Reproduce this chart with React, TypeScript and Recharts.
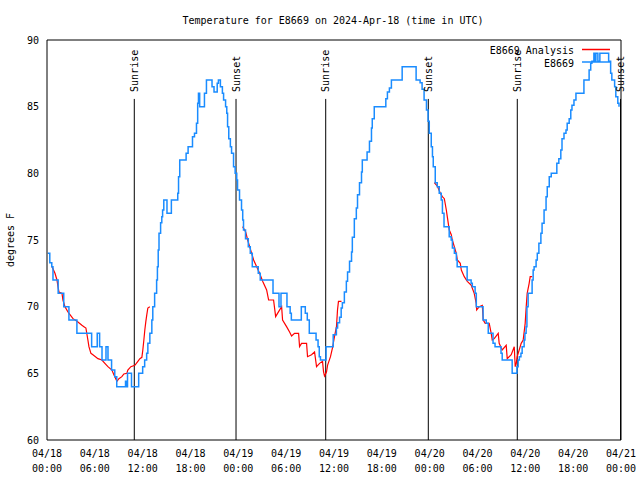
import React from 'react';
import {
  LineChart, Line, XAxis, YAxis, ReferenceLine, ReferenceDot, Legend,
} from 'recharts';

// ---------- data (hours since 04/18 00:00 UTC, degrees F) ----------
const xTicks = [0, 6, 12, 18, 24, 30, 36, 42, 48, 54, 60, 66, 72];
const xMinorTicks = [0, 2, 4, 6, 8, 10, 12, 14, 16, 18, 20, 22, 24, 26, 28, 30, 32, 34, 36, 38, 40, 42, 44, 46, 48, 50, 52, 54, 56, 58, 60, 62, 64, 66, 68, 70, 72];
const xTickDates = ['04/18', '04/18', '04/18', '04/18', '04/19', '04/19', '04/19', '04/19', '04/20', '04/20', '04/20', '04/20', '04/21'];
const xTickTimes = ['00:00', '06:00', '12:00', '18:00', '00:00', '06:00', '12:00', '18:00', '00:00', '06:00', '12:00', '18:00', '00:00'];
const yTicks = [60, 65, 70, 75, 80, 85, 90];

const sunEventHours = [10.95, 23.71, 34.96, 47.83, 58.99, 71.94];
const sunEventNames = ['Sunrise', 'Sunset', 'Sunrise', 'Sunset', 'Sunrise', 'Sunset'];
const sunLineTop = 85.58;

const seriesNames = ['E8669 Analysis', 'E8669'];

// E8669 observations [hour, temp]
const stationDay1: [number, number][] = [
  [0.1, 74], [0.35, 73.3], [0.6, 73], [0.75, 72], [1.4, 71], [2.1, 70], [2.75, 69], [3.75, 68],
  [5.6, 67], [6.3, 68], [6.6, 67], [6.9, 66], [7.4, 67], [7.65, 66], [8.1, 65.25], [8.5, 64.75],
  [8.75, 64], [9.85, 64.4], [9.95, 64], [10.1, 65], [10.6, 64], [11.5, 65], [12.0, 65.5],
  [12.25, 66], [12.5, 66.5], [12.65, 67.25], [12.9, 68], [13.15, 69], [13.27, 70], [13.5, 71],
  [13.75, 72], [13.85, 73], [13.95, 74.25], [14.05, 75.5], [14.25, 76.3], [14.4, 76.75],
  [14.5, 77.25], [14.65, 78], [15.05, 77], [15.6, 78], [16.4, 78.5], [16.5, 79.75], [16.65, 81],
  [17.45, 81.5], [17.7, 82], [18.25, 82.75], [18.5, 83], [18.75, 83.75], [18.9, 85.25], [19.0, 86],
  [19.15, 85], [19.75, 86], [20.0, 87], [20.7, 86.5], [20.95, 86.1], [21.35, 86.75], [21.5, 87],
  [21.75, 86.5], [22.0, 86], [22.15, 85.5], [22.4, 85], [22.55, 84.5], [22.65, 83.5], [22.8, 82.6],
  [23.0, 82], [23.15, 81.5], [23.4, 80.5], [23.6, 80], [23.8, 79.5], [23.9, 78.75],
];
const stationDay2: [number, number][] = [
  [24.15, 78], [24.4, 77.25], [24.55, 76.5], [24.65, 75.75], [24.9, 75.1], [25.25, 74.5], [25.5, 74],
  [25.75, 73], [26.5, 72.5], [26.75, 72], [28.35, 71], [29.1, 70], [29.35, 71], [30.1, 70],
  [30.5, 69.5], [30.65, 69], [31.9, 70], [32.4, 69.5], [32.65, 69], [32.9, 68], [33.75, 67.5],
  [34.0, 67], [34.15, 66.25], [34.3, 66], [35.0, 67], [35.9, 67.9], [36.3, 68.4], [36.45, 68.8],
  [36.7, 69.2], [36.9, 69.9], [37.05, 70.3], [37.3, 71.1], [37.55, 71.9], [37.7, 72.6], [37.95, 73.4],
  [38.2, 74.1], [38.3, 75.2], [38.55, 76.6], [38.8, 77.4], [38.95, 78.4], [39.2, 79.3], [39.45, 80.1],
  [39.55, 81], [40.15, 81.6], [40.45, 82.4], [40.7, 83.4], [40.8, 84.1], [41.05, 85], [42.5, 85.6],
  [42.7, 86.1], [42.95, 86.4], [43.2, 87], [44.55, 88], [46.3, 87], [46.8, 86.8], [47.05, 86.3],
  [47.3, 85.5], [47.6, 84.75], [47.8, 83.9],
];
const stationDay3: [number, number][] = [
  [47.95, 83], [48.2, 82], [48.35, 81.25], [48.45, 80.5], [48.7, 79.3], [48.95, 79], [49.2, 78.5],
  [49.45, 78], [49.6, 77], [49.8, 76], [50.45, 75.25], [50.7, 75], [50.85, 74.4], [51.1, 74],
  [51.35, 73.5], [51.45, 73], [52.7, 72], [53.2, 71.75], [53.35, 71.5], [53.7, 71], [53.85, 70],
  [54.7, 69], [55.1, 68.75], [55.35, 68], [55.95, 67.25], [56.2, 67], [56.95, 66.5], [57.1, 66],
  [58.35, 65], [58.95, 65.5], [59.1, 66], [59.25, 66.25], [59.45, 66.5], [59.6, 67], [59.85, 67.5],
  [59.95, 68], [60.1, 68.5], [60.2, 70], [60.35, 71], [60.85, 72], [60.98, 72.75], [61.1, 73],
  [61.35, 73.5], [61.5, 74], [61.7, 74.75], [61.95, 75.5], [62.1, 76.25], [62.35, 77.25],
  [62.6, 78.25], [62.75, 79], [63.0, 79.75], [63.25, 80], [63.95, 80.75], [64.2, 81.1],
  [64.45, 81.75], [64.6, 82.6], [64.85, 83], [65.1, 83.25], [65.25, 83.75], [65.5, 84.1],
  [65.7, 84.75], [65.85, 85.1], [66.1, 85.5], [66.35, 86], [67.35, 87], [68.0, 87.75], [68.2, 88.25],
  [68.35, 88.4], [68.6, 89], [68.75, 88.4], [68.85, 89], [69.1, 88.4], [69.35, 89], [70.45, 88.4],
  [70.7, 87.5], [70.85, 87], [71.2, 86.5], [71.35, 85.75], [71.6, 85.25], [71.75, 85],
];

// E8669 Analysis [hour, temp]
const analysisNight1: [number, number][] = [
  [0.63, 73], [1.0, 72.5], [1.25, 72], [1.38, 71.5], [1.5, 71.1], [1.88, 71], [2.0, 70.5], [2.25, 70],
  [2.63, 69.6], [2.88, 69.4], [3.26, 69.1], [3.76, 68.9], [4.38, 68.6], [4.63, 68.5], [4.88, 68.4],
  [5.13, 67.5], [5.26, 67], [5.51, 66.5], [5.76, 66.4], [6.39, 66.1], [6.89, 66], [7.26, 65.75],
  [7.64, 65.5], [8.14, 65.25], [8.39, 64.9], [8.77, 64.4], [9.02, 64.6], [9.39, 64.75], [9.64, 64.95],
  [10.02, 65], [10.14, 65.25], [10.52, 65.5], [11.02, 65.6], [11.4, 65.9], [11.65, 66.1], [11.9, 66.2],
  [12.02, 66.75], [12.15, 67.5], [12.27, 68.25], [12.4, 68.9], [12.52, 69.4], [12.65, 69.9], [12.9, 70],
];
const analysisNight2: [number, number][] = [
  [24.54, 76], [24.92, 75.6], [25.17, 75], [25.42, 74.5], [25.67, 74], [25.92, 73.5], [26.3, 73],
  [26.67, 72.5], [27.05, 71.9], [27.55, 71.25], [27.8, 70.5], [28.42, 70.5], [28.68, 69.25],
  [28.92, 69.5], [29.43, 70], [29.55, 69], [30.05, 68.5], [30.43, 68.1], [30.68, 67.8], [31.05, 68],
  [31.56, 68], [31.68, 67], [31.93, 67.25], [32.56, 67.25], [32.68, 66.25], [33.18, 66.4],
  [33.56, 66.6], [33.81, 65.5], [34.19, 65.75], [34.56, 65.9], [34.69, 65.1], [34.81, 64.8],
  [35.06, 65.1], [35.19, 65.6], [35.56, 66.25], [35.81, 66.9], [36.06, 67.75], [36.31, 68.5],
  [36.44, 69.75], [36.56, 70.4], [36.94, 70.4],
];
const analysisNight3: [number, number][] = [
  [48.58, 79.3], [48.96, 79.05], [49.34, 78.5], [49.59, 78.25], [49.84, 78.1], [50.09, 77.25],
  [50.21, 76.75], [50.46, 75.75], [50.71, 75.4], [50.84, 75], [51.09, 74.5], [51.34, 74],
  [51.47, 73.5], [51.84, 73.25], [51.97, 72.75], [52.34, 72.25], [52.72, 71.9], [53.22, 71.6],
  [53.34, 71.4], [53.59, 71], [53.84, 70.25], [53.9, 69.75], [54.22, 70], [54.6, 70.1], [54.72, 69],
  [54.97, 68.75], [55.47, 68.75], [55.72, 68], [55.85, 67.5], [56.1, 67.6], [56.6, 68], [56.72, 67.25],
  [56.98, 66.9], [57.1, 66.75], [57.6, 67.1], [57.73, 66.1], [58.23, 66.4], [58.61, 67], [58.73, 65.5],
  [58.86, 65.75], [58.98, 66.25], [59.23, 66.75], [59.48, 67.25], [59.73, 67.5], [59.98, 68.75],
  [60.11, 70], [60.23, 71], [60.48, 71.75], [60.61, 72.25], [60.86, 72.25],
];

// ---------- build series tables ----------
const toRows = (pts: [number, number][]) => pts.map(([h, t]) => ({ h, t }));
const stationRows = toRows([...stationDay1, ...stationDay2, ...stationDay3]);
const analysisRows = [
  ...toRows(analysisNight1),
  { h: 18, t: null },
  ...toRows(analysisNight2),
  { h: 42, t: null },
  ...toRows(analysisNight3),
];

const FONT = '"DejaVu Sans Mono", "Liberation Mono", monospace';
const BLUE = '#1a8cff';
const RED = '#ff0000';
const seriesColors: Record<string, string> = { 'E8669 Analysis': RED, 'E8669': BLUE };

const XTick = (props: any) => {
  const { x, y, payload } = props;
  const i = xTicks.indexOf(payload.value);
  return (
    <g>
      <text x={x} y={y + 17} textAnchor="middle" fontFamily={FONT} fontSize={10} fill="#000">{xTickDates[i]}</text>
      <text x={x} y={y + 32} textAnchor="middle" fontFamily={FONT} fontSize={10} fill="#000">{xTickTimes[i]}</text>
    </g>
  );
};

const LegendContent = (props: any) => {
  const payload: any[] = props.payload || [];
  const items = seriesNames.map((name) => {
    const found = payload.find((p: any) => p.value === name);
    return { name, color: found ? found.color : seriesColors[name] };
  });
  return (
    <svg width={140} height={32} style={{ display: 'block', overflow: 'visible' }}>
      {items.map((it: any, i: number) => (
        <g key={i}>
          <text x={94} y={14 + i * 12.5} textAnchor="end" fontFamily={FONT} fontSize={10} fill="#000">{it.name}</text>
          <line x1={102} x2={130} y1={9.5 + i * 12.5} y2={9.5 + i * 12.5} stroke={it.color} strokeWidth={1.5} />
        </g>
      ))}
    </svg>
  );
};

export default function App() {
  return (
    <div style={{ position: 'absolute', left: 0, top: 0, width: 640, height: 480, background: '#fff' }}>
      <LineChart width={640} height={480} margin={{ top: 40, right: 19, bottom: 0, left: 0 }}>
        <XAxis xAxisId="x" type="number" dataKey="h" domain={[0, 72]} ticks={xTicks} tick={<XTick />}
          tickLine={false} tickSize={0} tickMargin={0} height={40} axisLine={{ stroke: '#000' }} interval={0} />
        <XAxis xAxisId="xb1" type="number" dataKey="h" domain={[0, 72]} ticks={xTicks} mirror tick={false}
          tickSize={4} tickLine={{ stroke: '#000' }} axisLine={false} interval={0} />
        <XAxis xAxisId="xb2" type="number" dataKey="h" domain={[0, 72]} ticks={xMinorTicks} mirror tick={false}
          tickSize={2} tickLine={{ stroke: '#000' }} axisLine={false} interval={0} />
        <XAxis xAxisId="xt1" orientation="top" type="number" dataKey="h" domain={[0, 72]} ticks={xTicks} mirror tick={false}
          tickSize={4} tickLine={{ stroke: '#000' }} axisLine={{ stroke: '#000' }} interval={0} />
        <XAxis xAxisId="xt2" orientation="top" type="number" dataKey="h" domain={[0, 72]} ticks={xMinorTicks} mirror tick={false}
          tickSize={2} tickLine={{ stroke: '#000' }} axisLine={false} interval={0} />
        <YAxis yAxisId="y" type="number" domain={[60, 90]} ticks={yTicks} width={47} tickLine={false}
          tickSize={5} tickMargin={3} axisLine={{ stroke: '#000' }} interval={0}
          tick={{ fontFamily: FONT, fontSize: 10, fill: '#000' }} />
        <YAxis yAxisId="yl" type="number" domain={[60, 90]} ticks={yTicks} mirror tick={false}
          tickSize={4} tickLine={{ stroke: '#000' }} axisLine={false} interval={0} />
        <YAxis yAxisId="yr" orientation="right" type="number" domain={[60, 90]} ticks={yTicks} mirror tick={false}
          tickSize={4} tickLine={{ stroke: '#000' }} axisLine={{ stroke: '#000' }} interval={0} />

        {sunEventHours.map((h, i) => (
          <ReferenceLine key={'sl' + i} xAxisId="x" yAxisId="y"
            segment={[{ x: h, y: 60 }, { x: h, y: sunLineTop }]} stroke="#000" strokeWidth={1} />
        ))}
        {sunEventHours.map((h, i) => (
          <ReferenceDot key={'sd' + i} xAxisId="x" yAxisId="y" x={h} y={sunLineTop} r={0}
            shape={(p: any) => (
              <text x={p.cx} y={p.cy - 7} transform={`rotate(-90 ${p.cx} ${p.cy - 7})`} textAnchor="start"
                dy="0.35em" fontFamily={FONT} fontSize={10} fill="#000">{sunEventNames[i]}</text>
            )} />
        ))}

        <Line xAxisId="x" yAxisId="y" data={analysisRows} dataKey="t" name={seriesNames[0]} type="linear"
          stroke={RED} strokeWidth={1.2} dot={false} activeDot={false} isAnimationActive={false} connectNulls={false} />
        <Line xAxisId="x" yAxisId="y" data={stationRows} dataKey="t" name={seriesNames[1]} type="stepAfter"
          stroke={BLUE} strokeWidth={1.5} dot={false} activeDot={false} isAnimationActive={false} />

        <Legend layout="vertical" align="center" verticalAlign="middle" content={<LegendContent />}
          wrapperStyle={{ position: 'absolute', left: 480, top: 40, width: 140, height: 32 }} />
      </LineChart>
      <svg width={640} height={480} style={{ position: 'absolute', left: 0, top: 0, pointerEvents: 'none' }}>
        <text x={333} y={24} textAnchor="middle" fontFamily={FONT} fontSize={10} fill="#000">
          Temperature for E8669 on 2024-Apr-18 (time in UTC)
        </text>
        <text x={10} y={240} transform="rotate(-90 10 240)" textAnchor="middle" dy="0.35em" fontFamily={FONT} fontSize={10} fill="#000">
          degrees F
        </text>
      </svg>
    </div>
  );
}
